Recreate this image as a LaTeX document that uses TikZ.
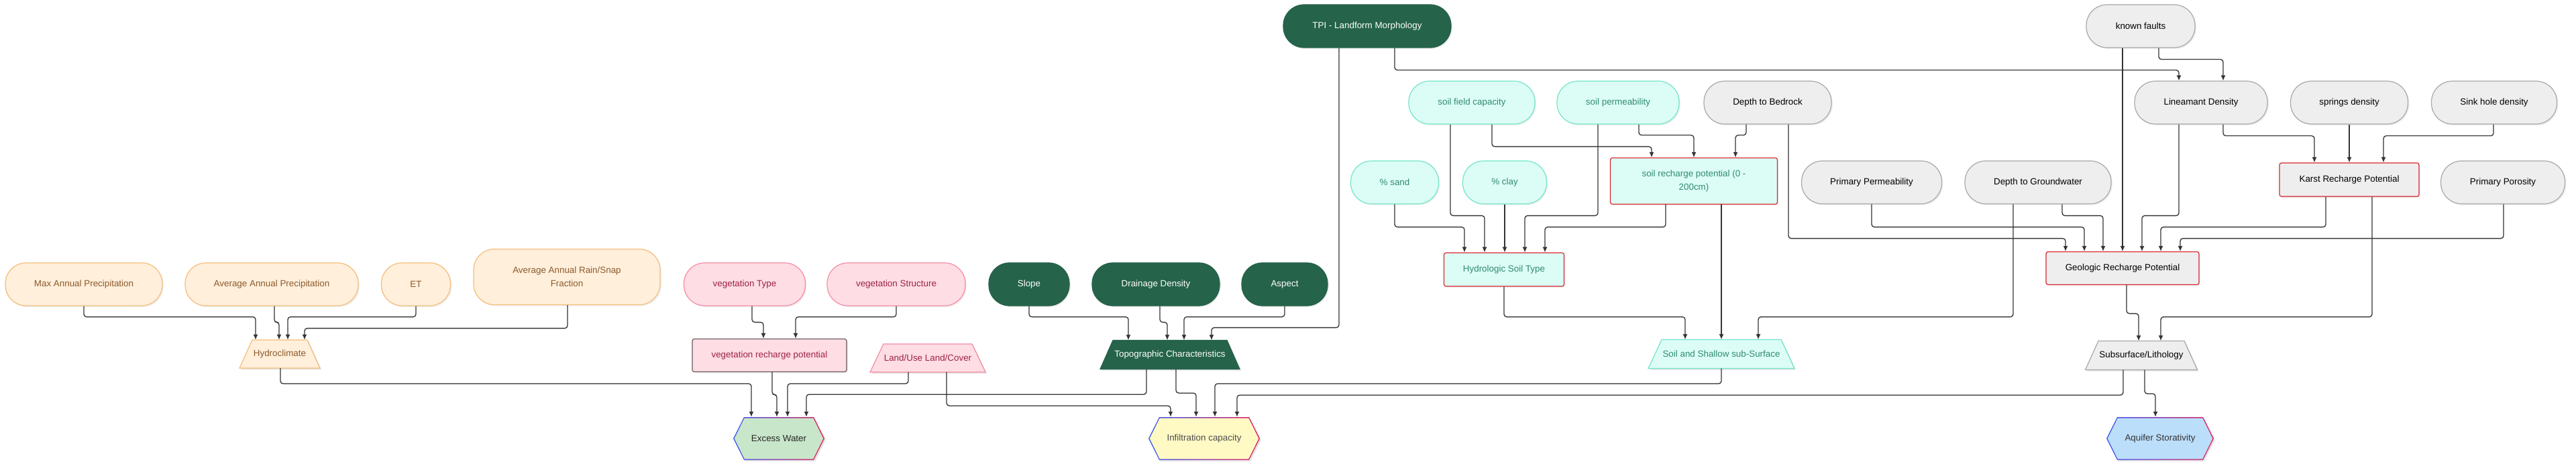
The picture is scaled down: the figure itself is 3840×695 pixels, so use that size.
\documentclass[tikz,border=0pt]{standalone}
\usepackage{fontspec}
\setmainfont{Liberation Sans}
\usetikzlibrary{shapes.geometric,arrows.meta,shadows}
\definecolor{orfill}{HTML}{FFEFDB}
\definecolor{ordraw}{HTML}{F5BD7A}
\definecolor{ortext}{HTML}{8C5A2B}
\definecolor{pkfill}{HTML}{FFDDE4}
\definecolor{pkdraw}{HTML}{F48CA3}
\definecolor{pktext}{HTML}{9B2246}
\definecolor{gnfill}{HTML}{25634A}
\definecolor{cyfill}{HTML}{DCFDF6}
\definecolor{cydraw}{HTML}{72E5C9}
\definecolor{cytext}{HTML}{2F8A70}
\definecolor{gyfill}{HTML}{EEEEEE}
\definecolor{gydraw}{HTML}{A8A8A8}
\definecolor{redb}{HTML}{D9262E}
\definecolor{linec}{HTML}{333333}
\definecolor{exfill}{HTML}{C8E6C9}
\definecolor{infill}{HTML}{FFF9C4}
\definecolor{aqfill}{HTML}{BBDEFB}
\definecolor{hexblue}{HTML}{3B5BF5}
\definecolor{hexred}{HTML}{E8265E}
\definecolor{vrpdraw}{HTML}{6A5A5E}
% hexagon: center x, center y, half width, fill
\newcommand{\hexshape}[4]{%
  \begin{scope}[shift={(#1,#2)}]
    \fill[black,opacity=0.10] (-#3+2,2)--(-#3+18,-30)--(#3-14,-30)--(#3+2,2)--(#3-14,34)--(-#3+18,34)--cycle;
    \shade[left color=hexblue,right color=hexred] (-#3,0)--(-#3+16,-32)--(#3-16,-32)--(#3,0)--(#3-16,32)--(-#3+16,32)--cycle;
    \fill[#4] (-#3+1.7,0)--(-#3+16.8,-30.5)--(#3-16.8,-30.5)--(#3-1.7,0)--(#3-16.8,30.5)--(-#3+16.8,30.5)--cycle;
  \end{scope}}
% trapezoid: center x, center y, half bottom width, slope offset, half height, style
\newcommand{\trapshape}[6]{%
  \begin{scope}[shift={(#1,#2)}]
    \fill[black,opacity=0.12] (-#3+2,#5+2)--(#3+2,#5+2)--(#3-#4+2,-#5+2)--(-#3+#4+2,-#5+2)--cycle;
    \path[line width=1.2pt,#6] (-#3,#5)--(#3,#5)--(#3-#4,-#5)--(-#3+#4,-#5)--cycle;
  \end{scope}}
\tikzset{
  base/.style={inner sep=0pt, align=center, line width=1.2pt,
    drop shadow={opacity=0.12, shadow xshift=2pt, shadow yshift=-2pt}},
  stad/.style={base, rectangle, rounded corners=31pt, minimum height=64pt},
  boxn/.style={base, rectangle, rounded corners=3pt},
  plainn/.style={inner sep=0pt, align=center},
  hexn/.style={plainn, minimum height=64pt},
  orng/.style={fill=orfill, draw=ordraw, text=ortext},
  pnk/.style={fill=pkfill, draw=pkdraw, text=pktext},
  grn/.style={fill=gnfill, draw=gnfill, text=white},
  cyn/.style={fill=cyfill, draw=cydraw, text=cytext},
  gry/.style={fill=gyfill, draw=gydraw, text=black},
  conn/.style={draw=linec, line width=1.3pt, rounded corners=4pt, -{Latex[length=8pt,width=7pt]}},
  every node/.style={font=\fontsize{13.4pt}{20pt}\selectfont}
}
\begin{document}
\begin{tikzpicture}[x=1pt,y=-1pt]
\fill[white] (0,0) rectangle (3840,695);
\useasboundingbox (0,0) rectangle (3840,695);

% ---------- Hydroclimate ----------
\node[stad,orng,minimum width=234pt] (maxp) at (125,424) {Max Annual Precipitation};
\node[stad,orng,minimum width=258pt] (avgp) at (405,424) {Average Annual Precipitation};
\node[stad,orng,minimum width=103pt] (et) at (620,424) {ET};
\node[stad,orng,minimum width=278pt,minimum height=83pt] (rsf) at (845,413) {Average Annual Rain/Snap\\Fraction};
\trapshape{417}{528}{60}{19}{21}{fill=orfill,draw=ordraw}
\node[plainn,text=ortext,minimum width=120pt,minimum height=42pt] (hydro) at (417,528) {Hydroclimate};

% ---------- Vegetation ----------
\node[stad,pnk,minimum width=181pt] (vt) at (1110,424) {vegetation Type};
\node[stad,pnk,minimum width=206pt] (vs) at (1336,424) {vegetation Structure};
\node[boxn,pnk,draw=vrpdraw,minimum width=230pt,minimum height=49pt] (vrp) at (1147,530) {vegetation recharge potential};
\trapshape{1383}{534}{86}{20}{21}{fill=pkfill,draw=pkdraw}
\node[plainn,text=pktext,minimum width=172pt,minimum height=42pt] (lulc) at (1383,534) {Land/Use Land/Cover};

% ---------- Topography ----------
\node[stad,grn,minimum width=120pt] (slope) at (1534,424) {Slope};
\node[stad,grn,minimum width=190pt] (dd) at (1723,424) {Drainage Density};
\node[stad,grn,minimum width=128pt] (asp) at (1915,424) {Aspect};
\trapshape{1744}{529}{104}{19}{21.5}{fill=gnfill,draw=gnfill}
\node[plainn,text=white,minimum width=208pt,minimum height=43pt] (topo) at (1744,529) {Topographic Characteristics};
\node[stad,grn,minimum width=250pt] (tpi) at (2038,39) {TPI - Landform Morphology};

% ---------- Soil ----------
\node[stad,cyn,minimum width=188pt] (sfc) at (2194,153) {soil field capacity};
\node[stad,cyn,minimum width=182pt] (sp) at (2412,153) {soil permeability};
\node[stad,cyn,minimum width=131pt] (sand) at (2079,272) {\% sand};
\node[stad,cyn,minimum width=125pt] (clay) at (2243,272) {\% clay};
\node[boxn,cyn,draw=redb,minimum width=249pt,minimum height=69pt] (srp) at (2525,270) {soil recharge potential (0 -\\200cm)};
\node[boxn,cyn,draw=redb,minimum width=179pt,minimum height=50pt] (hst) at (2242,402) {Hydrologic Soil Type};
\trapshape{2566}{528}{109}{20}{21.5}{fill=cyfill,draw=cydraw}
\node[plainn,text=cytext,minimum width=218pt,minimum height=43pt] (sss) at (2566,528) {Soil and Shallow sub-Surface};

% ---------- Geology ----------
\node[stad,gry,minimum width=190pt] (dtb) at (2635,153) {Depth to Bedrock};
\node[stad,gry,minimum width=162pt] (kf) at (3191,39) {known faults};
\node[stad,gry,minimum width=198pt] (ld) at (3281,153) {Lineamant Density};
\node[stad,gry,minimum width=175pt] (spd) at (3502,153) {springs density};
\node[stad,gry,minimum width=187pt] (shd) at (3718,153) {Sink hole density};
\node[stad,gry,minimum width=209pt] (pp) at (2790,272) {Primary Permeability};
\node[stad,gry,minimum width=218pt] (dtg) at (3038,272) {Depth to Groundwater};
\node[boxn,gry,draw=redb,minimum width=208pt,minimum height=50pt] (krp) at (3502,268) {Karst Recharge Potential};
\node[stad,gry,minimum width=185pt] (por) at (3731,272) {Primary Porosity};
\node[boxn,gry,draw=redb,minimum width=228pt,minimum height=49pt] (grp) at (3164,400) {Geologic Recharge Potential};
\trapshape{3192}{530}{83.5}{19.5}{21.5}{fill=gyfill,draw=gydraw}
\node[plainn,text=black,minimum width=167pt,minimum height=43pt] (sub) at (3192,530) {Subsurface/Lithology};

% ---------- Outputs ----------
\hexshape{1161}{654}{68}{exfill}
\node[hexn,minimum width=136pt,text=black!85] (exw) at (1161,654) {Excess Water};
\hexshape{1795}{654}{83}{infill}
\node[hexn,minimum width=166pt,text=black!70] (inf) at (1795,654) {Infiltration capacity};
\hexshape{3220}{654}{80}{aqfill}
\node[hexn,minimum width=160pt,text=black!80] (aqu) at (3220,654) {Aquifer Storativity};

% ---------- Connectors ----------
\draw[conn] (maxp.south) -- ++(0,16) -| ([xshift=-36pt]hydro.north);
\draw[conn] ([xshift=4pt]avgp.south) -- ++(0,24) -| ([xshift=-1pt]hydro.north);
\draw[conn] (et.south) -- ++(0,16) -| ([xshift=12pt]hydro.north);
\draw[conn] ([xshift=1pt]rsf.south) -- ++(0,34.5) -| ([xshift=37pt]hydro.north);
\draw[conn] ([xshift=1pt]hydro.south) -- ++(0,23) -| ([xshift=-41pt]exw.north);

\draw[conn] ([xshift=11pt]vt.south) -- ++(0,24) -| ([xshift=-9pt]vrp.north);
\draw[conn] (vs.south) -- ++(0,16) -| ([xshift=39pt]vrp.north);
\draw[conn] ([xshift=4pt]vrp.south) -- ++(0,33.5) -| ([xshift=-3pt]exw.north);
\draw[conn] ([xshift=-29pt]lulc.south) -- ++(0,17) -| ([xshift=13pt]exw.north);
\draw[conn] ([xshift=28pt]lulc.south) -- ++(0,50) -| ([xshift=-50pt]inf.north);

\draw[conn] (slope.south) -- ++(0,16) -| ([xshift=-62pt]topo.north);
\draw[conn] ([xshift=6pt]dd.south) -- ++(0,24) -| ([xshift=-4pt]topo.north);
\draw[conn] (asp.south) -- ++(0,16) -| ([xshift=21pt]topo.north);
\draw[conn] ([xshift=-42pt]tpi.south) -- ++(0,417) -| ([xshift=62pt]topo.north);
\draw[conn] ([xshift=41pt]tpi.south) -- ++(0,33) -| ([xshift=-33pt]ld.north);
\draw[conn] ([xshift=-35pt]topo.south) -- ++(0,37.5) -| ([xshift=41pt]exw.north);
\draw[conn] ([xshift=9pt]topo.south) -- ++(0,35.5) -| ([xshift=-12pt]inf.north);

\draw[conn] (sand.south) -- ++(0,34) -| ([xshift=-59pt]hst.north);
\draw[conn] ([xshift=-32pt]sfc.south) -- ++(0,136) -| ([xshift=-29pt]hst.north);
\draw[conn] (clay.south) -- (clay.south |- hst.north);
\draw[conn] ([xshift=-30pt]sp.south) -- ++(0,136) -| ([xshift=31pt]hst.north);
\draw[conn] ([xshift=-42pt]srp.south) -- ++(0,33.5) -| ([xshift=61pt]hst.north);
\draw[conn] ([xshift=30pt]sfc.south) -- ++(0,33) -| ([xshift=-63pt]srp.north);
\draw[conn] ([xshift=31pt]sp.south) -- ++(0,16) -| (srp.north);
\draw[conn] ([xshift=-32pt]dtb.south) -- ++(0,16) -| ([xshift=62pt]srp.north);
\draw[conn] ([xshift=31pt]dtb.south) -- ++(0,170) -| ([xshift=-85pt]grp.north);
\draw[conn] ([xshift=41pt]srp.south) -- (sss.north);
\draw[conn] (hst.south) -- ++(0,45) -| ([xshift=-54pt]sss.north);
\draw[conn] ([xshift=-37pt]dtg.south) -- ++(0,168) -| ([xshift=55pt]sss.north);
\draw[conn] (sss.south) -- ++(0,22.5) -| ([xshift=16pt]inf.north);

\draw[conn] (pp.south) -- ++(0,34) -| ([xshift=-57pt]grp.north);
\draw[conn] ([xshift=36pt]dtg.south) -- ++(0,17) -| ([xshift=-29pt]grp.north);
\draw[conn] ([xshift=-27pt]kf.south) -- (grp.north);
\draw[conn] ([xshift=27pt]kf.south) -- ++(0,17) -| ([xshift=33pt]ld.north);
\draw[conn] ([xshift=-33pt]ld.south) -- ++(0,136) -| ([xshift=29pt]grp.north);
\draw[conn] ([xshift=33pt]ld.south) -- ++(0,17) -| ([xshift=-52pt]krp.north);
\draw[conn] (spd.south) -- (krp.north);
\draw[conn] ([xshift=-1pt]shd.south) -- ++(0,17) -| ([xshift=51pt]krp.north);
\draw[conn] ([xshift=-35pt]krp.south) -- ++(0,45) -| ([xshift=57pt]grp.north);
\draw[conn] ([xshift=34pt]krp.south) -- ++(0,179) -| ([xshift=29pt]sub.north);
\draw[conn] ([xshift=1pt]por.south) -- ++(0,51) -| ([xshift=86pt]grp.north);
\draw[conn] ([xshift=6pt]grp.south) -- ++(0,42.5) -| ([xshift=-4pt]sub.north);
\draw[conn] ([xshift=-27pt]sub.south) -- ++(0,37.5) -| ([xshift=49pt]inf.north);
\draw[conn] ([xshift=5pt]sub.south) -- ++(0,35.5) -| ([xshift=-7pt]aqu.north);
\end{tikzpicture}
\end{document}
